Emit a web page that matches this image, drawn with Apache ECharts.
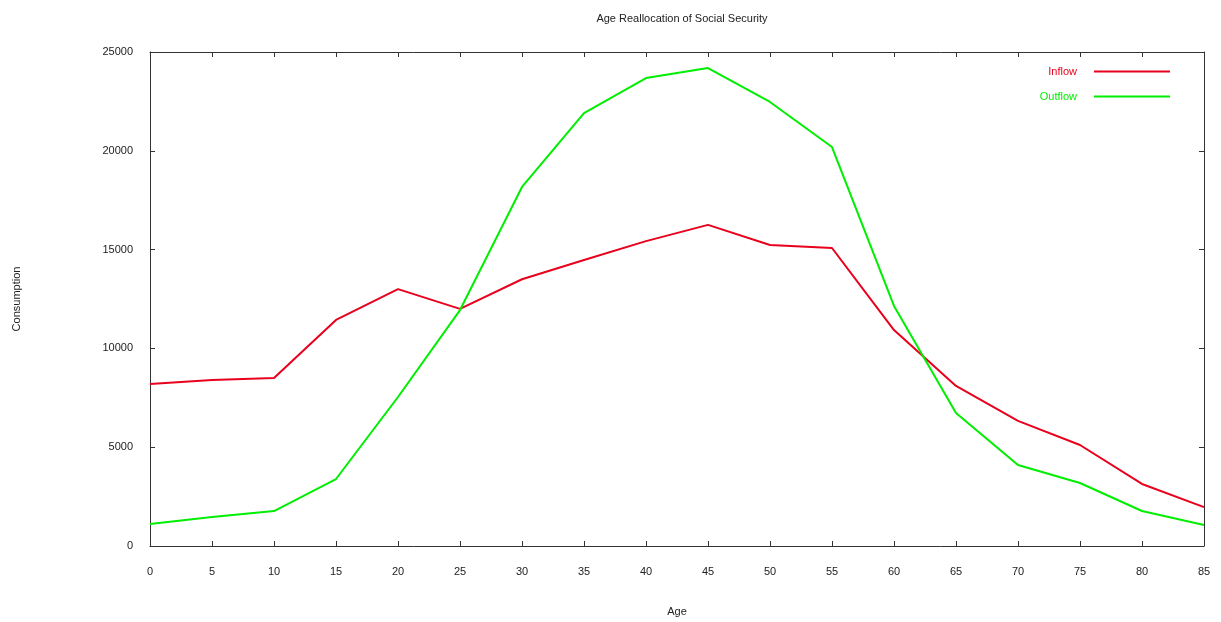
<!DOCTYPE html>
<html>
<head>
<meta charset="utf-8">
<script src="https://cdn.jsdelivr.net/npm/echarts@6/dist/echarts.min.js"></script>
<style>html,body{margin:0;padding:0;background:#fff}#c{width:1221px;height:622px}</style>
</head>
<body>
<div id="c"></div>
<script>
var ages = [0,5,10,15,20,25,30,35,40,45,50,55,60,65,70,75,80,85];
var inflow = [8200,8400,8500,11440,13000,12000,13500,14470,15430,16250,15230,15080,10930,8100,6330,5110,3140,1970];
var outflow = [1110,1470,1770,3390,7540,11940,18170,21910,23680,24190,22470,20190,12150,6730,4100,3190,1770,1060];
var seriesNames = ['Inflow','Outflow'];
var seriesColors = ['#e8001c','#00ee00'];

function pairs(xs, ys){ return xs.map(function(x,i){ return [x, ys[i]]; }); }

var font = 'Liberation Sans, Arial, sans-serif';
var chart = echarts.init(document.getElementById('c'));
function axLine(){ return {show:true, onZero:false, lineStyle:{color:'#333', width:1}}; }
function tick(){ return {show:true, inside:true, length:5, lineStyle:{color:'#333'}}; }
chart.setOption({
  animation:false,
  backgroundColor:'#fff',
  title:{text:'Age Reallocation of Social Security', left:677, top:8, textAlign:'center',
    textStyle:{fontFamily:font, fontSize:11, fontWeight:'normal', color:'#222'}},
  legend:{
    right:46, top:61, orient:'vertical', align:'right', itemGap:14,
    icon:'rect', itemWidth:76, itemHeight:2,
    textStyle:{fontFamily:font, fontSize:11, padding:[0,12,0,0]},
    data:[
      {name:seriesNames[0], textStyle:{color:seriesColors[0]}},
      {name:seriesNames[1], textStyle:{color:seriesColors[1]}}
    ]
  },
  grid:{left:150, right:17, top:52, bottom:76, containLabel:false, outerBoundsMode:'none'},
  xAxis:[
    {type:'value', min:0, max:85, interval:5, position:'bottom',
     name:'Age', nameLocation:'middle', nameGap:60,
     nameTextStyle:{fontFamily:font, fontSize:11, color:'#222'},
     axisLine:axLine(), axisTick:tick(),
     axisLabel:{fontFamily:font, fontSize:11, color:'#222', margin:20},
     splitLine:{show:false}},
    {type:'value', min:0, max:85, interval:5, position:'top',
     axisLine:axLine(), axisTick:tick(),
     axisLabel:{show:false}, splitLine:{show:false}}
  ],
  yAxis:[
    {type:'value', min:0, max:25000, interval:5000, position:'left',
     name:'Consumption', nameLocation:'middle', nameGap:128, nameRotate:90,
     nameTextStyle:{fontFamily:font, fontSize:11, color:'#222'},
     axisLine:axLine(), axisTick:tick(),
     axisLabel:{fontFamily:font, fontSize:11, color:'#222', margin:17, formatter:function(v){return String(v);}},
     splitLine:{show:false}},
    {type:'value', min:0, max:25000, interval:5000, position:'right',
     axisLine:axLine(), axisTick:tick(),
     axisLabel:{show:false}, splitLine:{show:false}}
  ],
  series:[
    {name:seriesNames[0], type:'line', data:pairs(ages, inflow), showSymbol:false,
     color:seriesColors[0], lineStyle:{width:2, color:seriesColors[0]}},
    {name:seriesNames[1], type:'line', data:pairs(ages, outflow), showSymbol:false,
     color:seriesColors[1], lineStyle:{width:2, color:seriesColors[1]}}
  ]
});
</script>
</body>
</html>
